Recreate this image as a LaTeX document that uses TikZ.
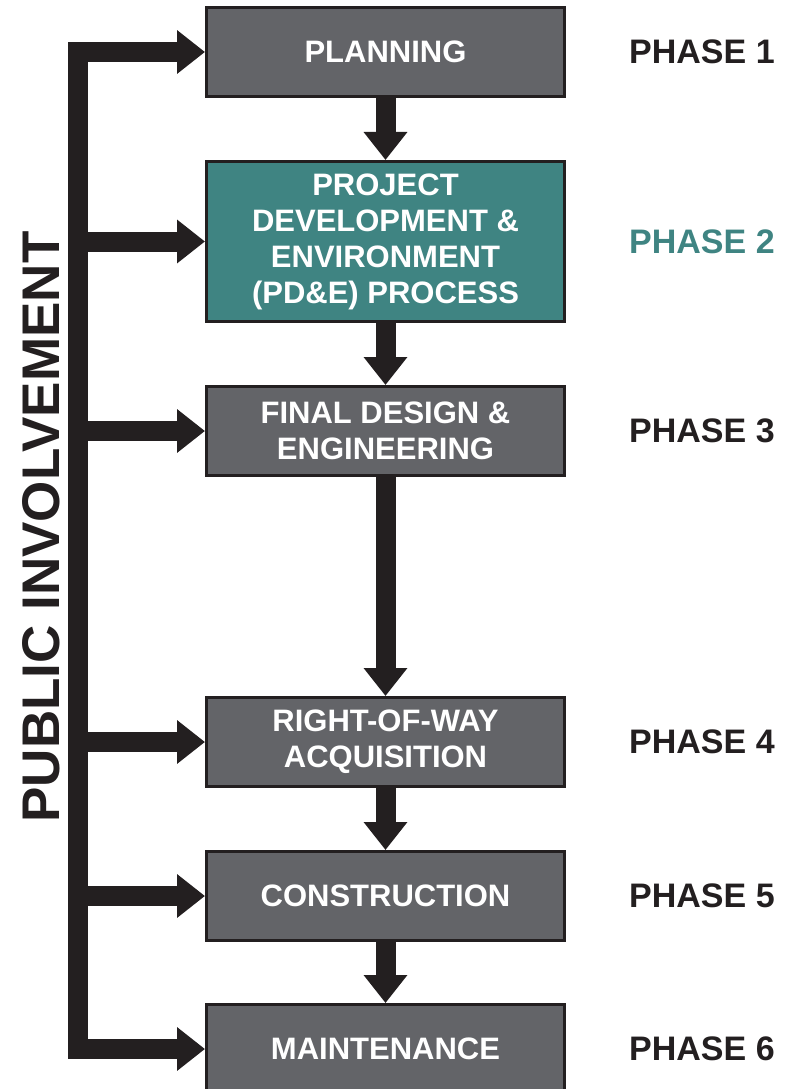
\documentclass[tikz,border=0pt]{standalone}
\usepackage{fontspec}
\setmainfont{Liberation Sans}
\usetikzlibrary{arrows.meta}

\definecolor{boxgray}{HTML}{636468}
\definecolor{pdeteal}{HTML}{3F8482}
\definecolor{inkdark}{HTML}{231F20}

\begin{document}
\begin{tikzpicture}[x=1pt, y=-1pt,
  phasebox/.style={draw=inkdark, line width=3pt, fill=boxgray, text=white,
    font=\fontsize{31}{36}\selectfont\bfseries, align=center,
    minimum width=358pt, minimum height=89pt, inner sep=0pt},
  phaselabel/.style={anchor=west, text=inkdark,
    font=\fontsize{34}{40}\selectfont\bfseries, inner sep=0pt},
  bigarrow/.style={draw=inkdark, line width=20pt, line join=miter,
    -{Triangle[width=42pt,length=28pt]}},
]
  \useasboundingbox (0,0) rectangle (794,1089);

  \pgfmathsetmacro{\boxx}{385.5}
  \pgfmathsetmacro{\labx}{629}

  % the six phases
  \node[phasebox] (b1) at (\boxx,52) {PLANNING};
  \node[phasebox, fill=pdeteal, minimum height=160pt] (b2) at (\boxx,241.5)
    {PROJECT\\DEVELOPMENT \&\\ENVIRONMENT\\(PD\&E) PROCESS};
  \node[phasebox] (b3) at (\boxx,431) {FINAL DESIGN \&\\ENGINEERING};
  \node[phasebox] (b4) at (\boxx,742) {RIGHT-OF-WAY\\ACQUISITION};
  \node[phasebox] (b5) at (\boxx,896) {CONSTRUCTION};
  \node[phasebox] (b6) at (\boxx,1049) {MAINTENANCE};

  \foreach \n/\y/\c in {1/52/inkdark,2/241.5/pdeteal,3/431/inkdark,
                        4/742/inkdark,5/896/inkdark,6/1049/inkdark}{
    \node[phaselabel, text=\c] (ph\n) at (\labx,\y) {PHASE \n};
  }

  % flow down the phases
  \foreach \a/\b in {b1/b2,b2/b3,b3/b4,b4/b5,b5/b6}{
    \draw[bigarrow] (\a) -- (\b);
  }

  % public involvement bus
  \coordinate (bustop) at (78,52);
  \coordinate (busbot) at (78,1049);
  \draw[bigarrow, {Triangle[width=42pt,length=28pt]}-{Triangle[width=42pt,length=28pt]}]
    (b1.west) -- (bustop) -- (busbot) -- (b6.west);
  \foreach \b in {b2,b3,b4,b5}{
    \draw[bigarrow] (\b.west -| bustop) -- (\b.west);
  }

  \node[rotate=90, text=inkdark, font=\fontsize{53}{60}\selectfont\bfseries]
    (pubinv) at (41,527) {PUBLIC INVOLVEMENT};
\end{tikzpicture}
\end{document}
